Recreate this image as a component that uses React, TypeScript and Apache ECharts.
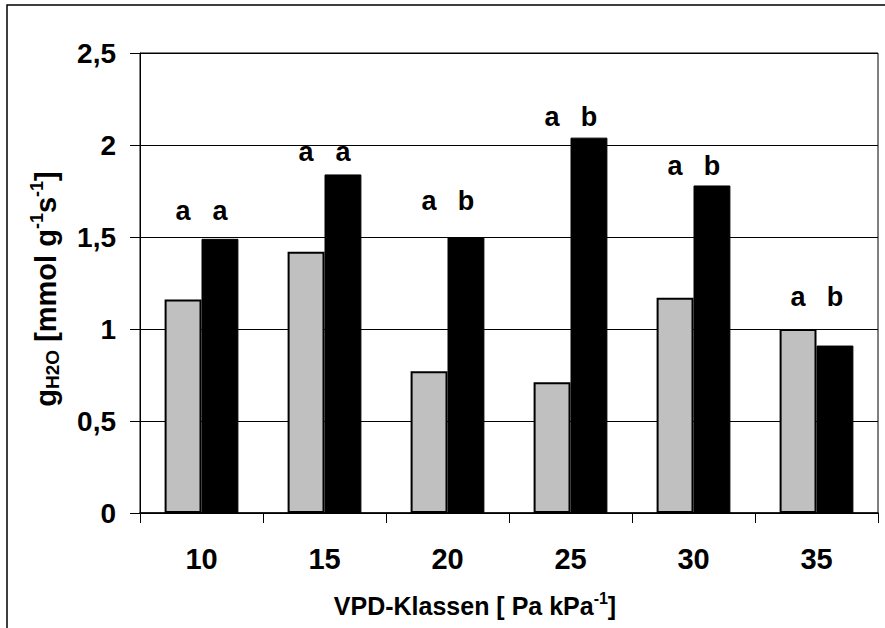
import React, { useEffect, useRef } from "react";
import * as echarts from "echarts";

const categories = ["10", "15", "20", "25", "30", "35"];
const grayValues = [1.16, 1.42, 0.77, 0.71, 1.17, 1.0];
const blackValues = [1.49, 1.84, 1.5, 2.04, 1.78, 0.91];
const grayLetters = ["a", "a", "a", "a", "a", "a"];
const blackLetters = ["a", "a", "b", "b", "b", "b"];
const letterHeights = [1.57, 1.89, 1.62, 2.08, 1.815, 1.1];
const yTicks = { min: 0, max: 2.5, interval: 0.5 };

const FONT = "Arial, 'Liberation Sans', sans-serif";

export default function App() {
  const ref = useRef<HTMLDivElement>(null);
  useEffect(() => {
    if (!ref.current) return;
    const chart = echarts.init(ref.current, null, { renderer: "svg" });
    const letterLabel = (letters: string[]) => ({
      show: true,
      position: "top",
      distance: 0,
      formatter: (p: any) => letters[p.dataIndex],
      fontFamily: FONT,
      fontWeight: "bold",
      fontSize: 27,
      color: "#000",
    });
    chart.setOption({
      animation: false,
      backgroundColor: "#fff",
      textStyle: { fontFamily: FONT },
      grid: { left: 140, top: 53, right: 7, bottom: 115, show: true, borderColor: "#000", borderWidth: 1, backgroundColor: "transparent" },
      xAxis: [
        {
          type: "category",
          data: categories,
          boundaryGap: true,
          axisLine: { lineStyle: { color: "#000", width: 1.5 } },
          axisTick: { show: true, alignWithLabel: false, length: 10, lineStyle: { color: "#000", width: 1 } },
          axisLabel: { color: "#000", fontFamily: FONT, fontWeight: "bold", fontSize: 29, margin: 31 },
        },
        {
          type: "category",
          data: categories,
          show: false,
          position: "bottom",
        },
      ],
      yAxis: {
        type: "value",
        min: yTicks.min,
        max: yTicks.max,
        interval: yTicks.interval,
        axisLine: { show: true, lineStyle: { color: "#000", width: 1 } },
        axisTick: { show: true, length: 10, lineStyle: { color: "#000" } },
        axisLabel: {
          color: "#000",
          fontFamily: FONT,
          fontWeight: "bold",
          fontSize: 28,
          margin: 24,
          formatter: (v: number) => String(v).replace(".", ","),
        },
        splitLine: { show: true, lineStyle: { color: "#000", width: 1 } },
      },
      series: [
        {
          type: "bar",
          data: grayValues,
          barWidth: "30%",
          barGap: "0%",
          itemStyle: { color: "#C0C0C0", borderColor: "#000", borderWidth: 2 },
        },
        {
          type: "bar",
          data: blackValues,
          barWidth: "30%",
          barGap: "0%",
          itemStyle: { color: "#000", borderColor: "#000", borderWidth: 1 },
        },
        {
          type: "bar",
          xAxisIndex: 1,
          data: letterHeights,
          barWidth: "30%",
          barGap: "0%",
          silent: true,
          itemStyle: { color: "rgba(0,0,0,0)" },
          label: letterLabel(grayLetters),
        },
        {
          type: "bar",
          xAxisIndex: 1,
          data: letterHeights,
          barWidth: "30%",
          barGap: "0%",
          silent: true,
          itemStyle: { color: "rgba(0,0,0,0)" },
          label: letterLabel(blackLetters),
        },
      ],
      graphic: [
        {
          type: "rect",
          shape: { x: 7, y: 5, width: 900, height: 700 },
          style: { fill: "none", stroke: "#000", lineWidth: 1.5 },
          silent: true,
        },
        {
          type: "text",
          x: 475,
          y: 606,
          style: {
            text: "{a|VPD-Klassen [ Pa kPa}{s|-1}{a|]}",
            align: "center",
            verticalAlign: "middle",
            fill: "#000",
            rich: {
              a: { fontFamily: FONT, fontWeight: "bold", fontSize: 25, fill: "#000" },
              s: { fontFamily: FONT, fontWeight: "bold", fontSize: 16, fill: "#000", padding: [0, 0, 15, 0] },
            },
          },
        },
        {
          type: "text",
          x: 46,
          y: 289,
          rotation: Math.PI / 2,
          style: {
            text: "{a|g}{b|H2O}{a| [mmol g}{s|-1}{a|s}{s|-1}{a|]}",
            align: "center",
            verticalAlign: "middle",
            fill: "#000",
            rich: {
              a: { fontFamily: FONT, fontWeight: "bold", fontSize: 29, fill: "#000" },
              b: { fontFamily: FONT, fontWeight: "bold", fontSize: 19, fill: "#000", padding: [13, 0, 0, 0] },
              s: { fontFamily: FONT, fontWeight: "bold", fontSize: 18, fill: "#000", padding: [0, 0, 18, 0] },
            },
          },
        },
      ],
    });
    return () => chart.dispose();
  }, []);
  return (
    <div
      ref={ref}
      style={{ position: "fixed", left: 0, top: 0, width: 885, height: 628, background: "#fff" }}
    />
  );
}
